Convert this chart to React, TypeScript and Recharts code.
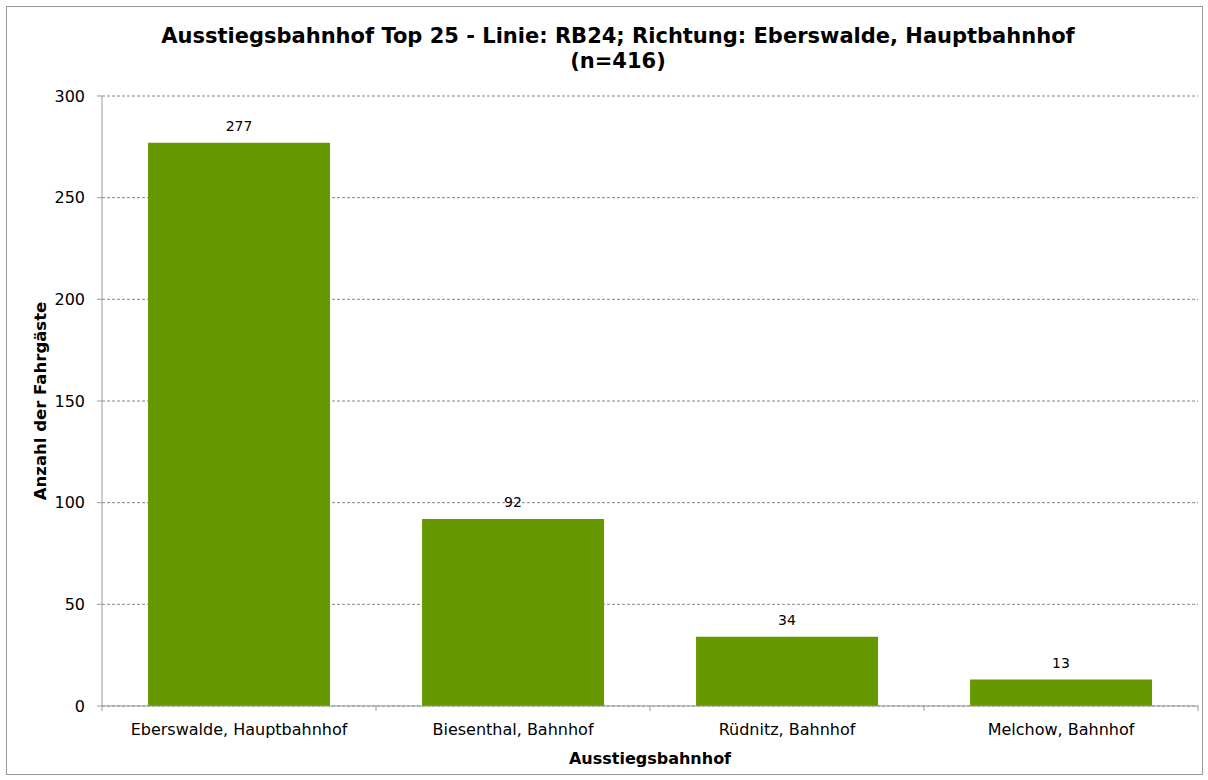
import { Bar, BarChart, CartesianGrid, LabelList, XAxis, YAxis } from "recharts";

const stations = [
  "Eberswalde, Hauptbahnhof",
  "Biesenthal, Bahnhof",
  "Rüdnitz, Bahnhof",
  "Melchow, Bahnhof",
];
const passengers = [277, 92, 34, 13];
const yTicks = [0, 50, 100, 150, 200, 250, 300];

const FONT = "'DejaVu Sans', Verdana, sans-serif";
const GREEN = "#669900";
const AXIS = "#999";
const TICK_MARGIN = 10;
const TICK_SIZE = 6;

const data = stations.map((name, i) => ({ name, value: passengers[i] }));

// category label plus tick marks on the band edges, like the original
function StationTick(props: any) {
  const { x, y, payload, index } = props;
  const half = payload?.offset ?? 137;
  const top = y - TICK_MARGIN - TICK_SIZE;
  return (
    <g>
      <line x1={x - half} y1={top} x2={x - half} y2={top + 5} stroke={AXIS} />
      {index === stations.length - 1 && (
        <line x1={x + half} y1={top} x2={x + half} y2={top + 5} stroke={AXIS} />
      )}
      <text x={x} y={y} dy={13} textAnchor="middle" fill="#000" fontSize={16} fontFamily={FONT}>
        {payload.value}
      </text>
    </g>
  );
}

export default function App() {
  return (
    <div style={{ position: "absolute", left: 0, top: 0, width: 1208, height: 780, background: "#fff", fontFamily: FONT }}>
      <div
        style={{
          position: "absolute",
          left: 6,
          top: 6,
          width: 1195,
          height: 767,
          border: "1px solid #999",
        }}
      />
      <div
        style={{
          position: "absolute",
          left: 0,
          top: 24,
          width: 1236,
          textAlign: "center",
          fontWeight: "bold",
          fontSize: 21,
          lineHeight: "25px",
          color: "#000",
        }}
      >
        Ausstiegsbahnhof Top 25 - Linie: RB24; Richtung: Eberswalde, Hauptbahnhof
        <br />
        (n=416)
      </div>
      <div style={{ position: "absolute", left: 0, top: 0 }}>
        <BarChart
          width={1208}
          height={780}
          data={data}
          margin={{ top: 96, right: 10, bottom: 14, left: 42 }}
          barCategoryGap="16.8%"
        >
          <CartesianGrid vertical={false} stroke="#888" strokeDasharray="3 2" />
          <XAxis
            dataKey="name"
            tickLine={false}
            tickSize={TICK_SIZE}
            axisLine={{ stroke: AXIS }}
            tick={<StationTick />}
            tickMargin={TICK_MARGIN}
            interval={0}
            height={60}
            label={{
              value: "Ausstiegsbahnhof",
              position: "insideBottom",
              offset: 2,
              fill: "#000",
              fontSize: 16,
              fontWeight: "bold",
              fontFamily: FONT,
            }}
          />
          <YAxis
            domain={[0, 300]}
            ticks={yTicks}
            interval={0}
            width={60}
            axisLine={{ stroke: AXIS }}
            tickLine={{ stroke: AXIS }}
            tickSize={5}
            tickMargin={12}
            tick={{ fill: "#000", fontSize: 16, fontFamily: FONT }}
            label={{
              value: "Anzahl der Fahrgäste",
              angle: -90,
              position: "insideLeft",
              offset: -2,
              style: { textAnchor: "middle" },
              fill: "#000",
              fontSize: 16.5,
              fontWeight: "bold",
              fontFamily: FONT,
            }}
          />
          <Bar dataKey="value" fill={GREEN} isAnimationActive={false}>
            <LabelList
              dataKey="value"
              position="top"
              offset={12}
              fill="#000"
              fontSize={14}
              fontFamily={FONT}
            />
          </Bar>
        </BarChart>
      </div>
    </div>
  );
}
